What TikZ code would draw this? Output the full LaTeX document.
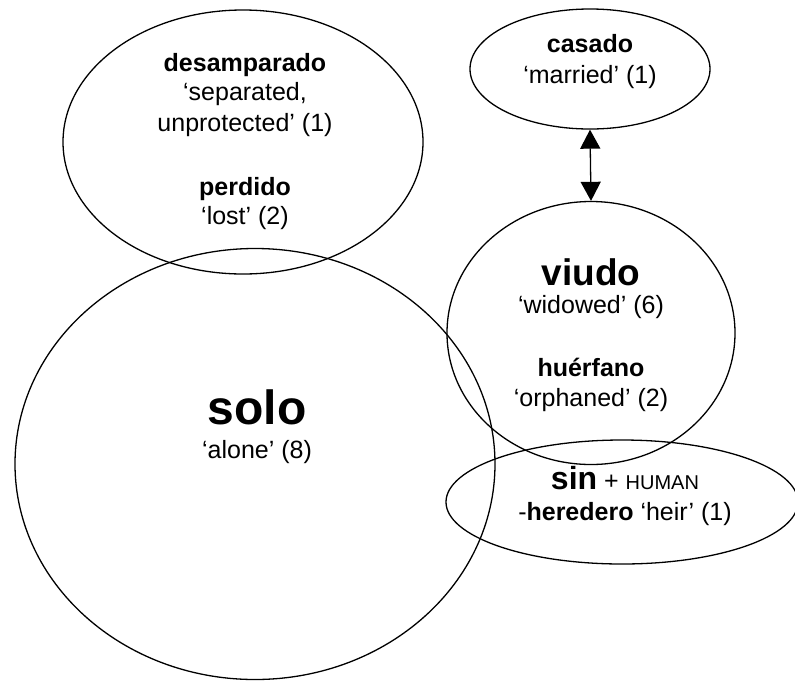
\documentclass[tikz,border=0pt]{standalone}
\usepackage{fontspec}
\setmainfont{Liberation Sans}
\usetikzlibrary{shapes.geometric,arrows.meta}
\tikzset{
  blob/.style={draw, ellipse, line width=1.3pt, inner sep=0pt},
  lbl/.style={align=center, inner sep=0pt, font=\fontsize{25}{28}\selectfont},
  big/.style={font=\fontsize{37}{40}\selectfont\bfseries},
  twohead/.style={line width=1.3pt, >={Triangle[width=20pt,length=19pt]}, <->},
}
\begin{document}
\begin{tikzpicture}[x=1pt,y=-1pt]
\useasboundingbox (0,0) rectangle (795,681);
% ellipses
\node[blob, minimum width=360pt, minimum height=264pt] (desa) at (243,142) {};
\node[blob, minimum width=480pt, minimum height=431pt] (solo) at (255,464) {};
\node[blob, minimum width=240pt, minimum height=120pt] (casa) at (590,69) {};
\node[blob, minimum width=288pt, minimum height=263pt] (viu) at (591,333) {};
\node[blob, minimum width=352pt, minimum height=124pt] (sin) at (622,502) {};
% arrow
\draw[twohead] (casa.south) -- (viu.north);
% texts
\node[lbl] (t1) at (245,65) {\textbf{desamparado}};
\node[lbl] (t2) at (245,94) {‘separated,};
\node[lbl] (t3) at (245,125) {unprotected’ (1)};
\node[lbl] (t4) at (245,189) {\textbf{perdido}};
\node[lbl] (t5) at (245,218) {‘lost’ (2)};
\node[lbl] (t6) at (590,44) {\textbf{casado}};
\node[lbl] (t7) at (590,77) {‘married’ (1)};
\node[lbl, big] (t8) at (591,272) {viudo};
\node[lbl] (t9) at (591,307) {‘widowed’ (6)};
\node[lbl] (t10) at (591,367) {\textbf{huérfano}};
\node[lbl] (t11) at (591,400) {‘orphaned’ (2)};
\node[lbl, font=\fontsize{48}{52}\selectfont\bfseries] (t12) at (257,407) {solo};
\node[lbl] (t13) at (257,452) {‘alone’ (8)};
\node[lbl] (t14) at (625,478) {{\fontsize{32}{36}\selectfont\bfseries sin} + {\fontsize{20}{22}\selectfont HUMAN}};
\node[lbl] (t15) at (625,514) {-\textbf{heredero} ‘heir’ (1)};
\end{tikzpicture}
\end{document}
